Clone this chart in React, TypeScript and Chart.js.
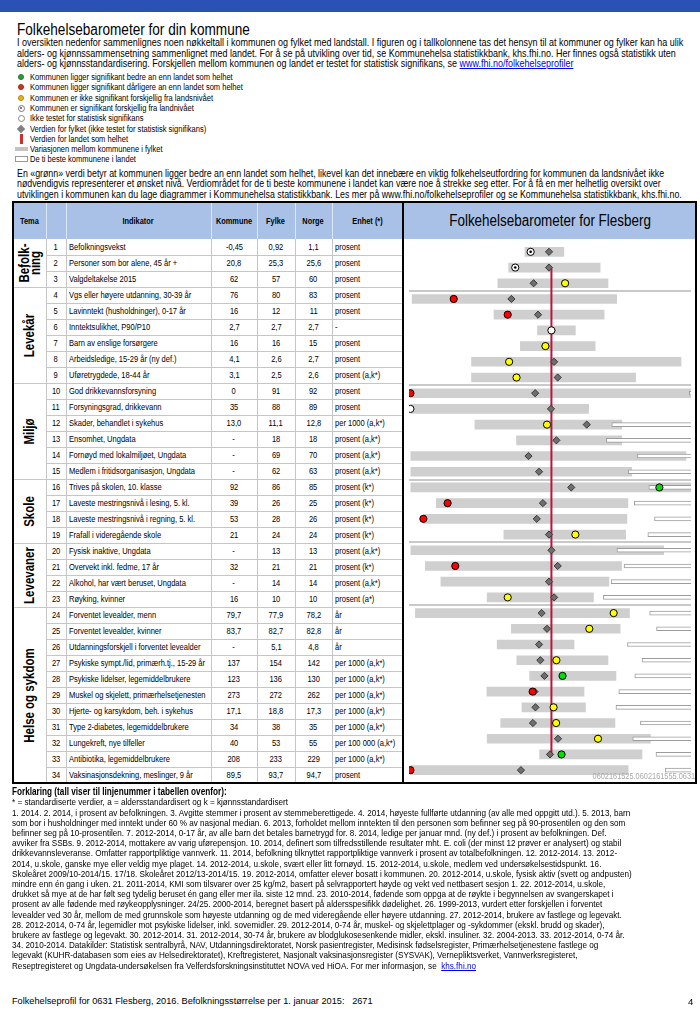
import React, { useEffect, useRef } from "react";
import { Chart, registerables } from "chart.js";
Chart.register(...registerables);

const FONT = '"Liberation Sans",Arial,sans-serif';
const NARROW = 0.82;

// ---------- data ----------
const rowNumbers = ["1","2","3","4","5","6","7","8","9","10","11","12","13","14","15","16","17","18","19","20","21","22","23","24","25","26","27","28","29","30","31","32","33","34"];

const indicators = [
  "Befolkningsvekst","Personer som bor alene, 45 år +","Valgdeltakelse 2015",
  "Vgs eller høyere utdanning, 30-39 år","Lavinntekt (husholdninger), 0-17 år","Inntektsulikhet, P90/P10",
  "Barn av enslige forsørgere","Arbeidsledige, 15-29 år (ny def.)","Uføretrygdede, 18-44 år",
  "God drikkevannsforsyning","Forsyningsgrad, drikkevann","Skader, behandlet i sykehus",
  "Ensomhet, Ungdata","Fornøyd med lokalmiljøet, Ungdata","Medlem i fritidsorganisasjon, Ungdata",
  "Trives på skolen, 10. klasse","Laveste mestringsnivå i lesing, 5. kl.","Laveste mestringsnivå i regning, 5. kl.",
  "Frafall i videregående skole","Fysisk inaktive, Ungdata","Overvekt inkl. fedme, 17 år",
  "Alkohol, har vært beruset, Ungdata","Røyking, kvinner","Forventet levealder, menn",
  "Forventet levealder, kvinner","Utdanningsforskjell i forventet levealder","Psykiske sympt./lid, primærh.tj., 15-29 år",
  "Psykiske lidelser, legemiddelbrukere","Muskel og skjelett, primærhelsetjenesten","Hjerte- og karsykdom, beh. i sykehus",
  "Type 2-diabetes, legemiddelbrukere","Lungekreft, nye tilfeller","Antibiotika, legemiddelbrukere",
  "Vaksinasjonsdekning, meslinger, 9 år",
];
const kommuneText = ["-0,45","20,8","62","76","16","2,7","16","4,1","3,1","0","35","13,0","-","-","-","92","39","53","21","-","32","-","16","79,7","83,7","-","137","123","273","17,1","34","40","208","89,5"];
const fylkeText = ["0,92","25,3","57","80","12","2,7","16","2,6","2,5","91","88","11,1","18","69","62","86","26","28","24","13","21","14","10","77,9","82,7","5,1","154","136","272","18,8","38","53","233","93,7"];
const norgeText = ["1,1","25,6","60","83","11","2,7","15","2,7","2,6","92","89","12,8","18","70","63","85","25","26","24","13","21","14","10","78,2","82,8","4,8","142","130","262","17,3","35","55","229","94,7"];
const enhetText = ["prosent","prosent","prosent","prosent","prosent","-","prosent","prosent","prosent (a,k*)","prosent","prosent","per 1000 (a,k*)","prosent (a,k*)","prosent (a,k*)","prosent (a,k*)","prosent (k*)","prosent (k*)","prosent (k*)","prosent (k*)","prosent (a,k*)","prosent (k*)","prosent (a,k*)","prosent (a*)","år","år","år","per 1000 (a,k*)","per 1000 (a,k*)","per 1000 (a,k*)","per 1000 (a,k*)","per 1000 (a,k*)","per 100 000 (a,k*)","per 1000 (a,k*)","prosent"];

const groups = [
  { name: "Befolk-\nning", start: 0, count: 3 },
  { name: "Levekår", start: 3, count: 6 },
  { name: "Miljø", start: 9, count: 6 },
  { name: "Skole", start: 15, count: 4 },
  { name: "Levevaner", start: 19, count: 4 },
  { name: "Helse og sykdom", start: 23, count: 11 },
];
const groupBoundaries = [3, 9, 15, 19, 23];

// Standardised barometer positions (0 = landet)
const fylkeRange: ([number, number] | null)[] = [
  [-18.6, 8.7], [-30.0, 34.2], [-37.6, 39.7], [-97.8, 45.8], [-40.3, 37.0], [-9.8, 16.8],
  [-21.8, 30.7], [-56.1, 91.0], [-56.1, 59.1], [-98.7, 98.5], [-98.7, 26.1], [-53.7, 49.4],
  [-24.5, 49.4], [-98.7, 94.4], [-98.7, 56.4], [-98.7, 98.0], [-80.8, 53.7], [-89.9, 53.0],
  [-33.4, 52.1], [-98.7, 78.8], [-88.5, 49.2], [-77.6, 40.3], [-45.1, 29.5], [-95.5, 54.8],
  [-28.1, 48.3], [-38.1, 15.9], [-24.3, 39.7], [-15.3, 45.3], [-45.3, 22.9], [-20.7, 23.9],
  [-35.6, 44.6], [-45.1, 69.5], [-8.3, 63.6], [-98.7, 53.9],
];
const bestTenRange: ([number, number] | null)[] = [
  null, null, null, null, null, null, null, null, null, [96.8, 101], null, [42.4, 101],
  [38.5, 101], [60.2, 101], [53.9, 101], [68.4, 101], [58.2, 101], [72.4, 101],
  [67.7, 101], [46.0, 101], [51.0, 101], [41.9, 101], [36.5, 101], [69.0, 101],
  [73.8, 101], [53.4, 101], [63.6, 101], [58.5, 101], [47.3, 101], [45.3, 101],
  [62.5, 101], [57.1, 101], [73.4, 101], [79.9, 101],
];
const kommunePos: (number | null)[] = [
  -14.6, -25.4, 9.6, -68.6, -30.7, 0, -4.2, -29.7, -24.5, -99, -99, -3.1,
  null, null, null, 75.8, -72.9, -89.9, 16.8, null, -67.5, null, -30.7, 43.7,
  26.6, null, 3.5, 7.8, -13.2, 1.5, 3.3, 32.7, 7.1, -99,
];
const kommuneType = [
  "sig", "sig", "ns", "bad", "bad", "nt", "ns", "ns", "ns", "bad", "nt", "ns",
  "", "", "", "good", "bad", "bad", "ns", "", "bad", "", "ns", "ns",
  "ns", "", "ns", "good", "bad", "ns", "ns", "ns", "good", "bad",
];
const fylkePos: (number | null)[] = [
  -1.7, -1.7, -12.5, -28.1, -9.4, 0, -4.2, 1.9, 4.4, -11.4, -0.3, 24.8,
  3.5, -16.1, -8.7, 13.9, -6.0, -10.3, -1.7, 0, 4.4, -1.7, 1.9, -6.9,
  -3.1, -8.7, -7.8, -4.9, -11.9, -11.2, -13.0, 4.6, -1.0, -21.4,
];
const norgeLine = [{ x: 0, y: 0 }, { x: 0, y: 1 }];

const introLines = [
  "I oversikten nedenfor sammenlignes noen nøkkeltall i kommunen og fylket med landstall. I figuren og i tallkolonnene tas det hensyn til at kommuner og fylker kan ha ulik",
  "alders- og kjønnssammensetning sammenlignet med landet. For å se på utvikling over tid, se Kommunehelsa statistikkbank, khs.fhi.no. Her finnes også statistikk uten",
  "alders- og kjønnsstandardisering. Forskjellen mellom kommunen og landet er testet for statistisk signifikans, se ",
];
const legendItems = [
  "Kommunen ligger signifikant bedre an enn landet som helhet",
  "Kommunen ligger signifikant dårligere an enn landet som helhet",
  "Kommunen er ikke signifikant forskjellig fra landsnivået",
  "Kommunen er signifikant forskjellig fra landnivået",
  "Ikke testet for statistisk signifikans",
  "Verdien for fylket (ikke testet for statistisk signifikans)",
  "Verdien for landet som helhet",
  "Variasjonen mellom kommunene i fylket",
  "De ti beste kommunene i landet",
];
const para2Lines = [
  "En «grønn» verdi betyr at kommunen ligger bedre an enn landet som helhet, likevel kan det innebære en viktig folkehelseutfordring for kommunen da landsnivået ikke",
  "nødvendigvis representerer et ønsket nivå. Verdiområdet for de ti beste kommunene i landet kan være noe å strekke seg etter. For å få en mer helhetlig oversikt over",
  "utviklingen i kommunen kan du lage diagrammer i Kommunehelsa statistikkbank. Les mer på www.fhi.no/folkehelseprofiler og se Kommunehelsa statistikkbank, khs.fhi.no.",
];
const footLines = [
  "1. 2014. 2. 2014, i prosent av befolkningen. 3. Avgitte stemmer i prosent av stemmeberettigede. 4. 2014, høyeste fullførte utdanning (av alle med oppgitt utd.). 5. 2013, barn",
  "som bor i husholdninger med inntekt under 60 % av nasjonal median. 6. 2013, forholdet mellom inntekten til den personen som befinner seg på 90-prosentilen og den som",
  "befinner seg på 10-prosentilen. 7. 2012-2014, 0-17 år, av alle barn det betales barnetrygd for. 8. 2014, ledige per januar mnd. (ny def.) i prosent av befolkningen. Def.",
  "avviker fra SSBs. 9. 2012-2014, mottakere av varig uførepensjon. 10. 2014, definert som tilfredsstillende resultater mht. E. coli (der minst 12 prøver er analysert) og stabil",
  "drikkevannsleveranse. Omfatter rapportpliktige vannverk. 11. 2014, befolkning tilknyttet rapportpliktige vannverk i prosent av totalbefolkningen. 12. 2012-2014. 13. 2012-",
  "2014, u.skole, ganske mye eller veldig mye plaget. 14. 2012-2014, u.skole, svært eller litt fornøyd. 15. 2012-2014, u.skole, medlem ved undersøkelsestidspunkt. 16.",
  "Skoleåret 2009/10-2014/15. 17/18. Skoleåret 2012/13-2014/15. 19. 2012-2014, omfatter elever bosatt i kommunen. 20. 2012-2014, u.skole, fysisk aktiv (svett og andpusten)",
  "mindre enn én gang i uken. 21. 2011-2014, KMI som tilsvarer over 25 kg/m2, basert på selvrapportert høyde og vekt ved nettbasert sesjon 1. 22. 2012-2014, u.skole,",
  "drukket så mye at de har følt seg tydelig beruset én gang eller mer ila. siste 12 mnd. 23. 2010-2014, fødende som oppga at de røykte i begynnelsen av svangerskapet i",
  "prosent av alle fødende med røykeopplysninger. 24/25. 2000-2014, beregnet basert på aldersspesifikk dødelighet. 26. 1999-2013, vurdert etter forskjellen i forventet",
  "levealder ved 30 år, mellom de med grunnskole som høyeste utdanning og de med videregående eller høyere utdanning. 27. 2012-2014, brukere av fastlege og legevakt.",
  "28. 2012-2014, 0-74 år, legemidler mot psykiske lidelser, inkl. sovemidler. 29. 2012-2014, 0-74 år, muskel- og skjelettplager og -sykdommer (ekskl. brudd og skader),",
  "brukere av fastlege og legevakt. 30. 2012-2014. 31. 2012-2014, 30-74 år, brukere av blodglukosesenkende midler, ekskl. insuliner. 32. 2004-2013. 33. 2012-2014, 0-74 år.",
  "34. 2010-2014. Datakilder: Statistisk sentralbyrå, NAV, Utdanningsdirektoratet, Norsk pasientregister, Medisinsk fødselsregister, Primærhelsetjenestene fastlege og",
  "legevakt (KUHR-databasen som eies av Helsedirektoratet), Kreftregisteret, Nasjonalt vaksinasjonsregister (SYSVAK), Vernepliktsverket, Vannverksregisteret,",
  "Reseptregisteret og Ungdata-undersøkelsen fra Velferdsforskningsinstituttet NOVA ved HiOA. For mer informasjon, se  ",
];
const headerLabels = ["Tema", "", "Indikator", "Kommune", "Fylke", "Norge", "Enhet (*)"];

// ---------- layout ----------
const ROW_TOP = 239;
const ROW_H = 16;
const HEAD_TOP = 202;
const colEdges = [13, 46, 66, 211, 257, 295, 332, 403];
const CHART_L = 404;
const CHART_R = 696;
const TABLE_BOTTOM = ROW_TOP + ROW_H * 34;

const abs = (s: React.CSSProperties): React.CSSProperties => ({ position: "absolute", ...s });

function N({ children, origin = "0 50%", k = NARROW }: any) {
  return <span style={{ display: "inline-block", transform: `scaleX(${k})`, transformOrigin: origin, whiteSpace: "pre" }}>{children}</span>;
}

function TextLine({ y, x = 17, size = 10, lh = 11, children, bold = false, k = NARROW }: any) {
  return (
    <div style={abs({ left: x, top: y - lh / 2, fontSize: size, lineHeight: lh + "px", whiteSpace: "pre", fontWeight: bold ? "bold" : "normal", fontFamily: FONT })}>
      <N k={k}>{children}</N>
    </div>
  );
}

function LegendSymbol({ i, y }: { i: number; y: number }) {
  const cx = 21;
  const circ = (d: number, bg: string, border: string) =>
    abs({ left: cx - d / 2, top: y - d / 2, width: d, height: d, borderRadius: "50%", background: bg, border: `1px solid ${border}`, boxSizing: "border-box" });
  switch (i) {
    case 0: return <div style={circ(6, "#2f9a3e", "#26772f")} />;
    case 1: return <div style={circ(6, "#d1341f", "#a82616")} />;
    case 2: return <div style={circ(6, "#e6b11e", "#b8860b")} />;
    case 3: return (<><div style={circ(7, "#fff", "#777")} /><div style={abs({ left: cx - 1, top: y - 1, width: 2, height: 2, borderRadius: "50%", background: "#555" })} /></>);
    case 4: return <div style={circ(7, "#fff", "#888")} />;
    case 5: return <div style={abs({ left: cx - 3, top: y - 3, width: 6, height: 6, background: "#808080", transform: "rotate(45deg)" })} />;
    case 6: return <div style={abs({ left: cx - 1, top: y - 5, width: 3, height: 10, background: "#d0302c" })} />;
    case 7: return <div style={abs({ left: 15, top: y - 2, width: 13, height: 4, background: "#c4c4c4" })} />;
    default: return <div style={abs({ left: 15, top: y - 3, width: 13, height: 6, background: "#fff", border: "1px solid #999", boxSizing: "border-box" })} />;
  }
}

function Barometer() {
  const ref = useRef<HTMLCanvasElement>(null);
  useEffect(() => {
    const canvas = ref.current;
    if (!canvas) return;
    const fill = kommuneType.map((t) => (t === "good" ? "#00e000" : t === "bad" ? "#ff0000" : t === "ns" ? "#ffff00" : "#ffffff"));
    const sigDot = kommunePos.map((v, i) => (kommuneType[i] === "sig" ? v : null));
    const chart = new Chart(canvas, {
      type: "bar",
      data: {
        labels: rowNumbers,
        datasets: [
          { type: "line", label: "sig", data: sigDot, indexAxis: "y", showLine: false, pointRadius: 1.3, pointBackgroundColor: "#000", pointBorderWidth: 0, order: 0, clip: 0 } as any,
          { type: "line", label: "Kommune", data: kommunePos, indexAxis: "y", showLine: false, pointRadius: 3.6, pointBackgroundColor: fill, pointBorderColor: "#000", pointBorderWidth: 1, order: 1, clip: 0 } as any,
          { type: "line", label: "Fylke", data: fylkePos, indexAxis: "y", showLine: false, pointStyle: "rectRot", pointRadius: 3.6, pointBackgroundColor: "#6e6e6e", pointBorderColor: "#3a3a3a", pointBorderWidth: 1, order: 2, clip: 0 } as any,
          { type: "line", label: "Norge", data: norgeLine, indexAxis: "y", yAxisID: "yn", borderColor: "#b8163f", borderWidth: 2, pointRadius: 0, order: 3 } as any,
          { type: "bar", label: "Ti beste", data: bestTenRange, backgroundColor: "#ffffff", borderColor: "#9c9c9c", borderWidth: 1, borderSkipped: false, barThickness: 4, grouped: false, order: 4, clip: 0 } as any,
          { type: "bar", label: "Fylket", data: fylkeRange, backgroundColor: "#cfcfcf", barThickness: 9, grouped: false, order: 5, clip: 0 } as any,
        ],
      },
      options: {
        indexAxis: "y",
        animation: false,
        responsive: false,
        events: [],
        layout: { padding: 0 },
        plugins: { legend: { display: false }, tooltip: { enabled: false } },
        scales: {
          x: { type: "linear", min: -100, max: 98, display: false },
          y: {
            type: "category",
            display: true,
            offset: true,
            ticks: { display: false },
            border: { display: false },
            grid: {
              offset: true,
              drawTicks: false,
              lineWidth: 2,
              color: (c: any) => (groupBoundaries.includes(c.index) ? "#c9c9c9" : "rgba(0,0,0,0)"),
            },
          },
          yn: { type: "linear", min: 0, max: 1, display: false, position: "left" },
        },
      } as any,
    });
    return () => chart.destroy();
  }, []);
  return (
    <canvas ref={ref} width={CHART_R - CHART_L} height={TABLE_BOTTOM - ROW_TOP}
      style={abs({ left: CHART_L, top: ROW_TOP, width: CHART_R - CHART_L, height: TABLE_BOTTOM - ROW_TOP })} />
  );
}

function Table() {
  const els: any[] = [];
  els.push(<div key="hbg" style={abs({ left: 13, top: HEAD_TOP, width: CHART_R - 13, height: ROW_TOP - HEAD_TOP, background: "#a9c1e6" })} />);
  headerLabels.forEach((h, i) => {
    const l = colEdges[i], r = colEdges[i + 1];
    els.push(
      <div key={"h" + i} style={abs({ left: l, top: HEAD_TOP, width: r - l, height: ROW_TOP - HEAD_TOP, display: "flex", alignItems: "center", justifyContent: "center", fontSize: 9, fontWeight: "bold", fontFamily: FONT })}><N origin="50% 50%">{h}</N></div>
    );
  });
  els.push(
    <div key="htitle" style={abs({ left: CHART_L, top: HEAD_TOP, width: CHART_R - CHART_L, height: ROW_TOP - HEAD_TOP, display: "flex", alignItems: "center", justifyContent: "center", fontSize: 16, fontFamily: FONT })}><N origin="50% 50%" k={0.84}>Folkehelsebarometer for Flesberg</N></div>
  );
  colEdges.slice(1, -1).forEach((x, i) => {
    els.push(<div key={"hv" + i} style={abs({ left: x, top: HEAD_TOP, width: 1, height: ROW_TOP - HEAD_TOP, background: "#dde6f4" })} />);
  });
  colEdges.slice(1, -1).forEach((x, i) => {
    els.push(<div key={"bv" + i} style={abs({ left: x, top: ROW_TOP, width: 1, height: TABLE_BOTTOM - ROW_TOP, background: "#c6c6c6" })} />);
  });
  for (let i = 1; i < 34; i++) {
    const isGroup = groupBoundaries.includes(i);
    els.push(<div key={"rl" + i} style={abs({ left: isGroup ? 13 : 46, top: ROW_TOP + i * ROW_H, width: (CHART_L - 1) - (isGroup ? 13 : 46), height: 1, background: "#c6c6c6" })} />);
  }
  indicators.forEach((ind, i) => {
    const top = ROW_TOP + i * ROW_H;
    const cell = (l: number, r: number, txt: string, align: "center" | "left", key: string) => (
      <div key={key} style={abs({ left: l, top, width: r - l, height: ROW_H, lineHeight: ROW_H + "px", textAlign: align, paddingLeft: align === "left" ? 3 : 0, boxSizing: "border-box", fontSize: 9.2, fontFamily: FONT, whiteSpace: "nowrap" })}>
        <N origin={align === "left" ? "0 50%" : "50% 50%"}>{txt}</N>
      </div>
    );
    els.push(cell(46, 66, rowNumbers[i], "center", "n" + i));
    els.push(cell(66, 211, ind, "left", "i" + i));
    els.push(cell(211, 257, kommuneText[i], "center", "k" + i));
    els.push(cell(257, 295, fylkeText[i], "center", "f" + i));
    els.push(cell(295, 332, norgeText[i], "center", "g" + i));
    els.push(cell(332, 403, enhetText[i], "left", "e" + i));
  });
  groups.forEach((g, i) => {
    els.push(
      <div key={"g" + i} style={abs({ left: 13, top: ROW_TOP + g.start * ROW_H, width: 33, height: g.count * ROW_H, display: "flex", alignItems: "center", justifyContent: "center" })}>
        <div style={{ transform: `rotate(-90deg) scaleX(${NARROW})`, whiteSpace: "pre", fontWeight: "bold", fontSize: 14, lineHeight: "11px", textAlign: "center", fontFamily: FONT }}>{g.name}</div>
      </div>
    );
  });
  return <>{els}</>;
}

function Borders() {
  const b = "#000";
  return (
    <>
      <div style={abs({ left: 12, top: HEAD_TOP - 1, width: CHART_R + 1 - 12, height: 2, background: b })} />
      <div style={abs({ left: 12, top: TABLE_BOTTOM - 1, width: CHART_R + 1 - 12, height: 2, background: b })} />
      <div style={abs({ left: 12, top: HEAD_TOP - 1, width: 2, height: TABLE_BOTTOM - HEAD_TOP + 2, background: b })} />
      <div style={abs({ left: CHART_L - 2, top: HEAD_TOP - 1, width: 2, height: TABLE_BOTTOM - HEAD_TOP + 2, background: b })} />
      <div style={abs({ left: CHART_R - 1, top: HEAD_TOP - 1, width: 2, height: TABLE_BOTTOM - HEAD_TOP + 2, background: b })} />
    </>
  );
}

export default function App() {
  const legendY = [76.5, 87, 97.5, 108, 118, 128.5, 138.5, 149, 159];
  const link = { color: "#0000ee", textDecoration: "underline" };
  return (
    <div style={abs({ left: 0, top: 0, width: 700, height: 1010, background: "#fff", overflow: "hidden", fontFamily: FONT, color: "#000" })}>
      <div style={abs({ left: 0, top: 0, width: 700, height: 12, background: "#2a52b4" })} />
      <TextLine y={30} size={16} lh={18} k={0.85}>Folkehelsebarometer for din kommune</TextLine>
      {introLines.map((t, i) => (
        <TextLine key={"in" + i} y={42.5 + i * 10.5} size={10.5} k={0.855}>
          {t}
          {i === 2 ? <span style={link}>www.fhi.no/folkehelseprofiler</span> : null}
        </TextLine>
      ))}
      {legendItems.map((t, i) => (
        <React.Fragment key={"lg" + i}>
          <LegendSymbol i={i} y={legendY[i]} />
          <TextLine x={30} y={legendY[i]} size={9.2} lh={10}>{t}</TextLine>
        </React.Fragment>
      ))}
      {para2Lines.map((t, i) => (
        <TextLine key={"p2" + i} y={173 + i * 10.5} size={10.5} k={0.84}>{t}</TextLine>
      ))}
      <Table />
      <Barometer />
      <Borders />
      <div style={abs({ left: 560, top: 771, width: 135, height: 10, overflow: "hidden", textAlign: "right", fontSize: 9, lineHeight: "10px", color: "#a8a8a8", fontFamily: FONT, whiteSpace: "nowrap" })}>
        <N origin="100% 50%">0602161525.0602161555.0631</N>
      </div>
      <TextLine x={12} y={791} size={10} bold>Forklaring (tall viser til linjenummer i tabellen ovenfor):</TextLine>
      <TextLine x={12} y={801.5} size={9.8} k={0.83}>* = standardiserte verdier, a = aldersstandardisert og k = kjønnsstandardisert</TextLine>
      {footLines.map((t, i) => (
        <TextLine key={"fl" + i} x={12} y={812 + i * 10.2} size={9.8} k={0.83}>
          {t}
          {i === footLines.length - 1 ? <span style={link}>khs.fhi.no</span> : null}
        </TextLine>
      ))}
      <TextLine x={12} y={1001} size={9.2} k={1}>{"Folkehelseprofil for 0631 Flesberg, 2016. Befolkningsstørrelse per 1. januar 2015:   2671"}</TextLine>
      <TextLine x={688} y={1001} size={9.5} k={1}>4</TextLine>
    </div>
  );
}
